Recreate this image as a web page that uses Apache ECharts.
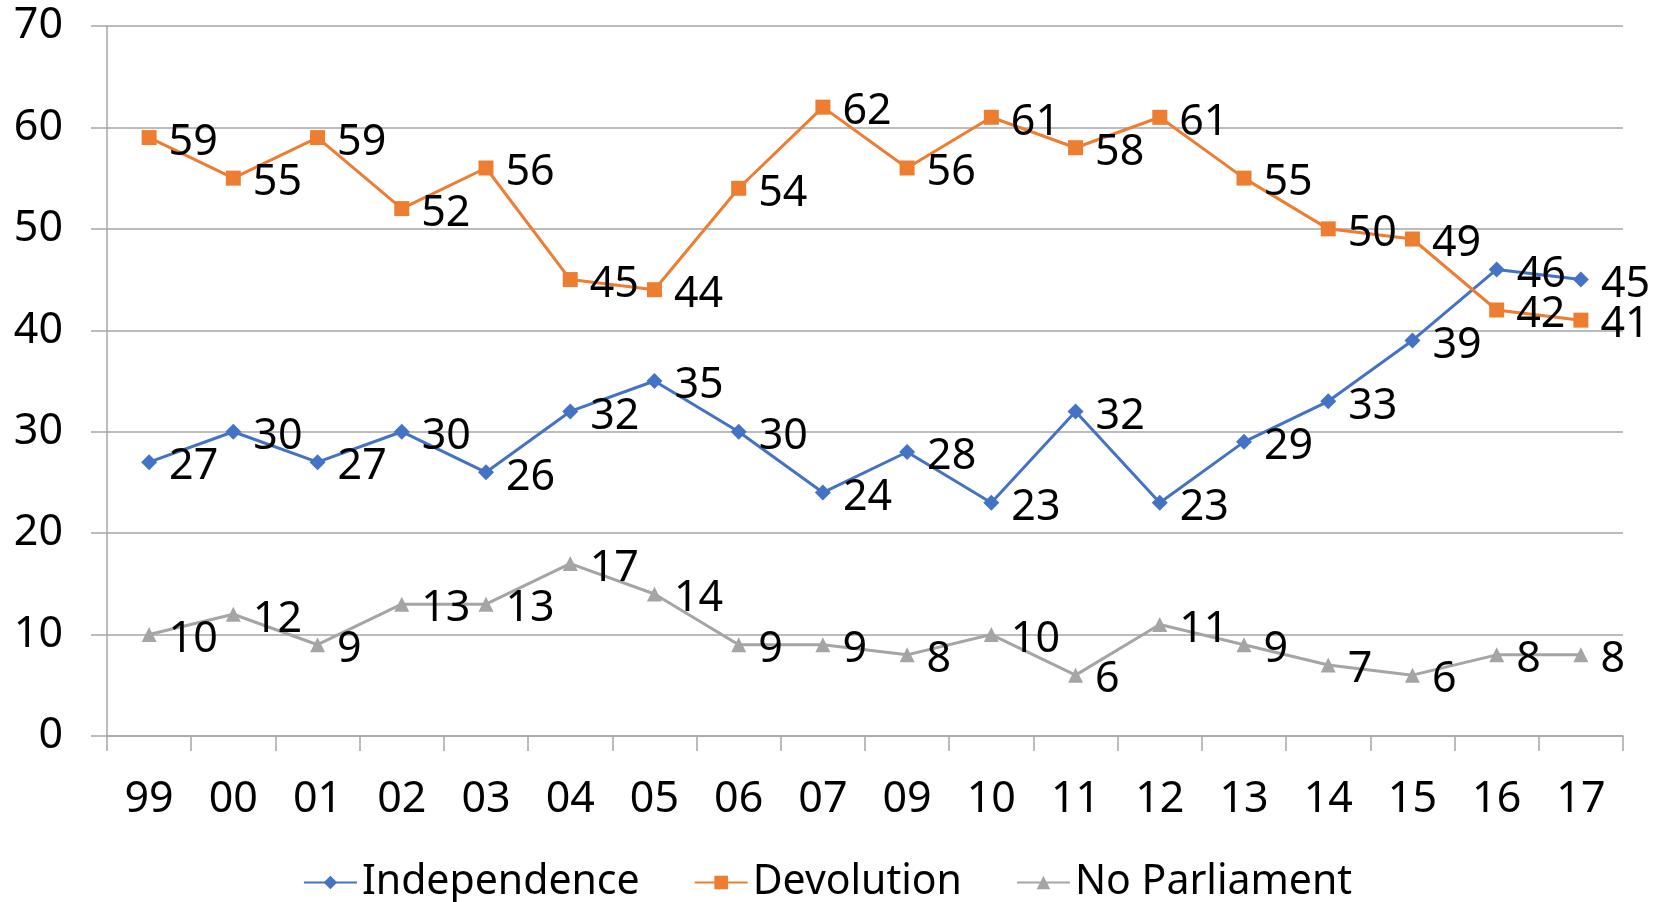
<!DOCTYPE html>
<html>
<head>
<meta charset="utf-8">
<style>
  html, body { margin: 0; padding: 0; background: #fff; }
  #chart { width: 1655px; height: 902px; }
</style>
<script src="https://cdn.jsdelivr.net/npm/echarts@6/dist/echarts.min.js"></script>
</head>
<body>
<div id="chart"></div>
<script>
// years (two digits), as on the x axis
const years = ['99', '00', '01', '02', '03', '04', '05', '06', '07', '09', '10', '11', '12', '13', '14', '15', '16', '17'];
const independence = [27, 30, 27, 30, 26, 32, 35, 30, 24, 28, 23, 32, 23, 29, 33, 39, 46, 45];
const devolution = [59, 55, 59, 52, 56, 45, 44, 54, 62, 56, 61, 58, 61, 55, 50, 49, 42, 41];
const noParliament = [10, 12, 9, 13, 13, 17, 14, 9, 9, 8, 10, 6, 11, 9, 7, 6, 8, 8];

const font = 'Noto Sans';
const gridColor = '#a6a6a6';

function lineSeries (name, data, color, symbol, size) {
  return {
    name: name,
    type: 'line',
    data: data,
    symbol: symbol,
    symbolSize: size,
    showAllSymbol: true,
    lineStyle: { color: color, width: 3 },
    itemStyle: { color: color },
    label: {
      show: true,
      position: 'right',
      distance: 12,
      offset: [0, 5],
      color: '#000',
      fontFamily: font,
      fontSize: 43
    },
    emphasis: { disabled: true },
    animation: false
  };
}

const chart = echarts.init(document.getElementById('chart'));
chart.setOption({
  backgroundColor: '#fff',
  textStyle: { fontFamily: font },
  grid: { left: 107, right: 32, top: 26, bottom: 166, containLabel: false },
  legend: {
    bottom: -6,
    left: 'center',
    itemWidth: 53,
    itemHeight: 17,
    itemGap: 54,
    textStyle: { fontFamily: font, fontSize: 41, color: '#000' },
    data: ['Independence', 'Devolution', 'No Parliament']
  },
  xAxis: {
    type: 'category',
    data: years,
    boundaryGap: true,
    axisLine: { lineStyle: { color: gridColor, width: 1.5 } },
    axisTick: { show: true, length: 15, lineStyle: { color: gridColor, width: 1.5 } },
    axisLabel: { color: '#000', fontFamily: font, fontSize: 43, margin: 42 }
  },
  yAxis: {
    type: 'value',
    min: 0,
    max: 70,
    interval: 10,
    axisLine: { show: true, lineStyle: { color: gridColor, width: 1.5 } },
    axisTick: { show: true, length: 16, lineStyle: { color: gridColor, width: 1.5 } },
    splitLine: { lineStyle: { color: gridColor, width: 1.5 } },
    axisLabel: { color: '#000', fontFamily: font, fontSize: 43, margin: 44 }
  },
  series: [
    lineSeries('Independence', independence, '#4472c4', 'diamond', 16),
    lineSeries('Devolution', devolution, '#ed7d31', 'rect', 15),
    lineSeries('No Parliament', noParliament, '#a5a5a5', 'triangle', 15)
  ]
});
</script>
</body>
</html>
